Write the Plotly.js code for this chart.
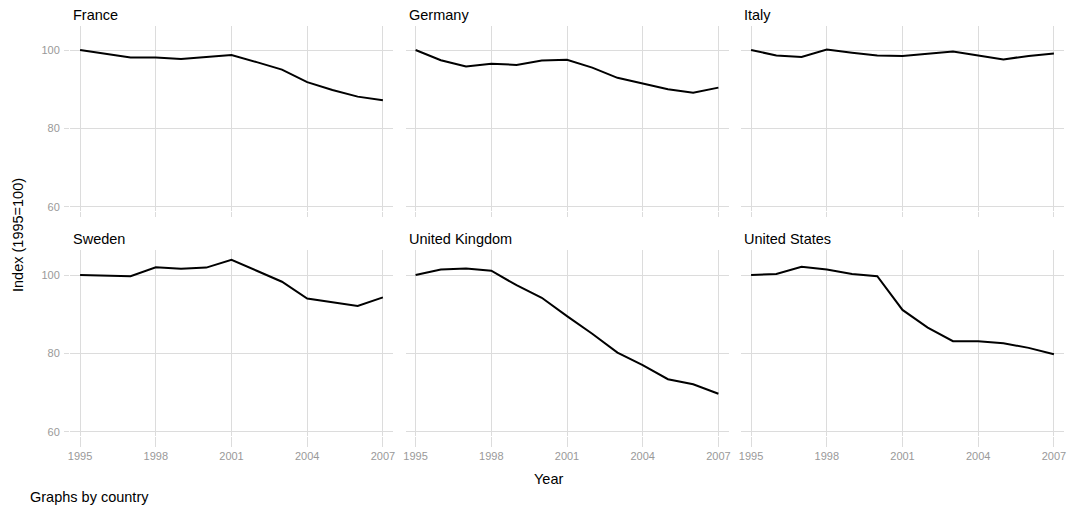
<!DOCTYPE html>
<html>
<head>
<meta charset="utf-8">
<script src="https://cdn.plot.ly/plotly-3.0.1.min.js"></script>
<style>
  html, body { margin: 0; padding: 0; background: #fff; }
  #chart { width: 1070px; height: 509px; }
</style>
</head>
<body>
<div id="chart"></div>
<script>
// Years on the horizontal axis
const years = [1995, 1996, 1997, 1998, 1999, 2000, 2001, 2002, 2003, 2004, 2005, 2006, 2007];

// Panel order (row by row)
const countries = ["France", "Germany", "Italy", "Sweden", "United Kingdom", "United States"];

// Index values (1995 = 100) per country
const france  = [100, 99.1, 98.1, 98.1, 97.7, 98.2, 98.7, 96.9, 95.0, 91.8, 89.8, 88.1, 87.2];
const germany = [100, 97.4, 95.8, 96.5, 96.2, 97.3, 97.5, 95.5, 92.9, 91.5, 90.0, 89.1, 90.4];
const italy   = [100, 98.6, 98.2, 100.1, 99.3, 98.6, 98.5, 99.0, 99.6, 98.6, 97.6, 98.5, 99.1];
const sweden  = [100, 99.9, 99.7, 102.0, 101.6, 101.9, 103.9, 101.1, 98.3, 94.0, 93.0, 92.1, 94.3];
const uk      = [100, 101.4, 101.7, 101.1, 97.4, 94.2, 89.5, 85.0, 80.2, 77.0, 73.4, 72.1, 69.7];
const us      = [100, 100.3, 102.1, 101.4, 100.3, 99.7, 91.1, 86.6, 83.1, 83.1, 82.6, 81.4, 79.8];

// Axis ticks
const xTicks = [1995, 1998, 2001, 2004, 2007];
const yTicks = [60, 80, 100];

const series = [france, germany, italy, sweden, uk, us];

const W = 1070, H = 509;
const gridColor = "#dcdcdc";
const tickFontColor = "#999999";
const fontFamily = "Liberation Sans, Arial, Helvetica, sans-serif";

// Panel geometry in pixels
const colLeft = [70, 405.5, 741];
const panelW = 323;
const rowTop = [26, 250];
const rowBottom = [211, 436];

const traces = [];
const layout = {
  width: W, height: H,
  margin: {l: 0, r: 0, t: 0, b: 0},
  paper_bgcolor: "#fff",
  plot_bgcolor: "#fff",
  showlegend: false,
  font: {family: fontFamily, color: "#000"},
  annotations: []
};

series.forEach((vals, i) => {
  const row = Math.floor(i / 3), col = i % 3;
  const n = i + 1;
  const xa = n === 1 ? "xaxis" : "xaxis" + n;
  const ya = n === 1 ? "yaxis" : "yaxis" + n;
  const xr = n === 1 ? "x" : "x" + n;
  const yr = n === 1 ? "y" : "y" + n;

  traces.push({
    x: years, y: vals, xaxis: xr, yaxis: yr,
    type: "scatter", mode: "lines",
    line: {color: "#000", width: 2},
    hoverinfo: "x+y"
  });

  layout[xa] = {
    domain: [colLeft[col] / W, (colLeft[col] + panelW) / W],
    anchor: yr,
    range: [1994.6, 2007.4],
    tickvals: xTicks,
    ticktext: xTicks.map(String),
    showticklabels: row === 1,
    ticks: "outside",
    ticklen: row === 1 ? 10 : 5,
    tickcolor: gridColor,
    tickwidth: 1,
    showgrid: true,
    gridcolor: gridColor,
    gridwidth: 1,
    zeroline: false,
    showline: false,
    tickfont: {size: 11, color: tickFontColor, family: fontFamily}
  };

  layout[ya] = {
    domain: [1 - rowBottom[row] / H, 1 - rowTop[row] / H],
    anchor: xr,
    range: row === 0 ? [58.9, 106.13] : [58.9, 106.4],
    tickvals: yTicks,
    ticktext: yTicks.map(String),
    showticklabels: col === 0,
    ticks: col === 0 ? "outside" : "",
    ticklen: 5,
    ticklabelstandoff: 2,
    tickcolor: gridColor,
    tickwidth: 1,
    showgrid: true,
    gridcolor: gridColor,
    gridwidth: 1,
    zeroline: false,
    showline: false,
    tickfont: {size: 11, color: tickFontColor, family: fontFamily}
  };

  // Panel heading
  layout.annotations.push({
    text: countries[i],
    xref: "paper", yref: "paper",
    x: (colLeft[col] + 1) / W,
    y: 1 - (rowTop[row] - 1) / H,
    xanchor: "left", yanchor: "bottom",
    showarrow: false,
    font: {size: 14.5, color: "#000", family: fontFamily}
  });
});

// Shared axis titles and caption
layout.annotations.push({
  text: "Year",
  xref: "paper", yref: "paper",
  x: 548 / W, y: 1 - 479 / H,
  xanchor: "center", yanchor: "middle",
  showarrow: false,
  font: {size: 14.5, color: "#000", family: fontFamily}
});
layout.annotations.push({
  text: "Index (1995=100)",
  xref: "paper", yref: "paper",
  x: 18 / W, y: 1 - 235 / H,
  xanchor: "center", yanchor: "middle",
  textangle: -90,
  showarrow: false,
  font: {size: 14.5, color: "#000", family: fontFamily}
});
layout.annotations.push({
  text: "Graphs by country",
  xref: "paper", yref: "paper",
  x: 28 / W, y: 1 - 497 / H,
  xanchor: "left", yanchor: "middle",
  showarrow: false,
  font: {size: 14.5, color: "#000", family: fontFamily}
});

Plotly.newPlot("chart", traces, layout, {displayModeBar: false, staticPlot: true});
</script>
</body>
</html>
